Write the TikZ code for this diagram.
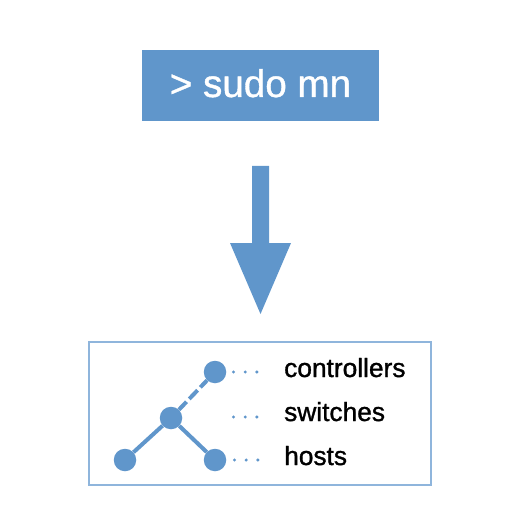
\documentclass[tikz,border=0pt]{standalone}
\usepackage{fontspec}
\setmainfont{Liberation Sans}
\newfontfamily\labfont[FakeBold=1.2]{Liberation Sans}
\newfontfamily\cmdfont[FakeBold=1]{Liberation Sans}
\definecolor{mnblue}{HTML}{6096CB}
\definecolor{mnframe}{HTML}{8FB5DC}
\tikzset{
  x=1pt,y=-1pt,
  topbox/.style={fill=mnblue,draw=none,minimum width=237.5pt,minimum height=71pt,inner sep=0pt},
  cmdtext/.style={anchor=base,inner sep=0pt,text=white,font=\cmdfont\fontsize{38.6}{38}\selectfont},
  frame/.style={draw=mnframe,line width=2pt,fill=none,minimum width=342pt,minimum height=143pt,inner sep=0pt},
  hostdot/.style={circle,fill=mnblue,draw=none,minimum size=22.5pt,inner sep=0pt},
  link/.style={draw=mnblue,line width=4pt},
  leader/.style={draw=mnblue,line width=3.4pt,line cap=round,dash pattern=on 0pt off 11.7pt},
  lab/.style={anchor=base west,inner sep=0pt,text=black,font=\labfont\fontsize{26.3}{26}\selectfont},
  bigarrow/.style={fill=mnblue,draw=none}
}
\begin{document}
\begin{tikzpicture}
\useasboundingbox (0,0) rectangle (521,521);
\node[topbox] (cmd) at (260.25,85.5) {};
\node[cmdtext] (cmdlab) at (260.5,97) {> sudo mn};
\fill[bigarrow] (252,166) -- (269,166) -- (269,243) -- (291,243) -- (260.5,314) -- (230,243) -- (252,243) -- cycle;
\node[frame] (panel) at (260,413.5) {};
\node[hostdot] (ctl) at (215,372) {};
\node[hostdot] (sw) at (171,418) {};
\node[hostdot] (h1) at (125,460) {};
\node[hostdot] (h2) at (215,460) {};
\draw[link] (sw) -- (h1);
\draw[link] (sw) -- (h2);
\draw[link,dash pattern=on 11pt off 4pt on 12pt off 4pt on 30pt] (sw) -- (ctl);
\node[lab] (lc) at (284,377) {controllers};
\node[lab] (ls) at (284,421) {switches};
\node[lab] (lh) at (284,465) {hosts};
\coordinate (a1) at (233.5,372);
\coordinate (a2) at (262,372);
\coordinate (b1) at (233.5,417);
\coordinate (b2) at (262,417);
\coordinate (c1) at (234.5,460);
\coordinate (c2) at (263,460);
\draw[leader] (a1) -- (a2);
\draw[leader] (b1) -- (b2);
\draw[leader] (c1) -- (c2);
\end{tikzpicture}
\end{document}
